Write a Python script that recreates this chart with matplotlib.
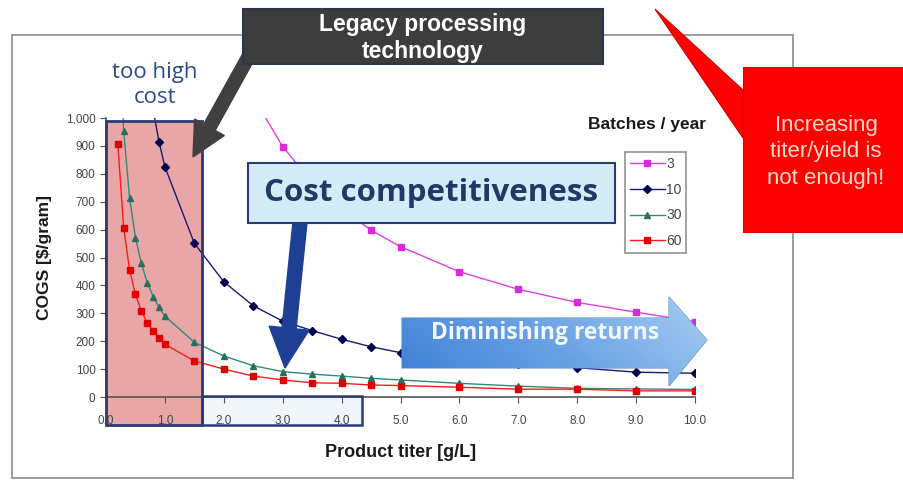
import matplotlib
matplotlib.use("Agg")
import matplotlib.pyplot as plt
import numpy as np
from matplotlib.patches import Rectangle, Polygon, FancyArrow
from matplotlib.colors import LinearSegmentedColormap

plt.rcParams['font.family'] = ['Liberation Sans', 'DejaVu Sans']

# ---- data ----
titer_3 = [2.5, 3.0, 3.5, 4.0, 4.5, 5.0, 6.0, 7.0, 8.0, 9.0, 10.0]
cogs_3 = [1076, 897, 770, 675, 598, 539, 449, 386, 339, 304, 270]

titer_10 = [0.8, 0.9, 1.0, 1.5, 2.0, 2.5, 3.0, 3.5, 4.0, 4.5, 5.0, 6.0, 7.0, 8.0, 9.0, 10.0]
cogs_10 = [1030, 915, 825, 551, 413, 327, 272, 238, 207, 180, 159, 136, 118, 105, 89, 85]

titer_30 = [0.2, 0.3, 0.4, 0.5, 0.6, 0.7, 0.8, 0.9, 1.0, 1.5, 2.0, 2.5, 3.0, 3.5, 4.0, 4.5, 5.0, 6.0, 7.0, 8.0, 9.0, 10.0]
cogs_30 = [1420, 953, 714, 571, 479, 410, 360, 321, 290, 196, 147, 112, 91, 82, 75, 67, 61, 49, 39, 31, 29, 27]

titer_60 = [0.2, 0.3, 0.4, 0.5, 0.6, 0.7, 0.8, 0.9, 1.0, 1.5, 2.0, 2.5, 3.0, 3.5, 4.0, 4.5, 5.0, 6.0, 7.0, 8.0, 9.0, 10.0]
cogs_60 = [906, 607, 455, 368, 308, 266, 236, 213, 189, 129, 100, 75, 61, 51, 49, 43, 41, 35, 28, 28, 22, 22]

x_ticks = [0, 1, 2, 3, 4, 5, 6, 7, 8, 9, 10]
x_tick_labels = ["0.0", "1.0", "2.0", "3.0", "4.0", "5.0", "6.0", "7.0", "8.0", "9.0", "10.0"]
y_ticks = [0, 100, 200, 300, 400, 500, 600, 700, 800, 900, 1000]
y_tick_labels = ["0", "100", "200", "300", "400", "500", "600", "700", "800", "900", "1,000"]

W, H = 904, 482
fig = plt.figure(figsize=(W / 100, H / 100), dpi=100)
fig.patch.set_facecolor("white")

# overlay in pixel coords (background layer)
bg = fig.add_axes([0, 0, 1, 1], zorder=0)
bg.set_xlim(0, W)
bg.set_ylim(H, 0)
bg.axis("off")

# outer chart frame
bg.add_patch(Rectangle((12, 35), 781, 443, fill=False, edgecolor="#8a8a8a", lw=1.2))
# red shaded region (legacy)
bg.add_patch(Rectangle((106, 121), 96, 304, facecolor="#e8a6a6", edgecolor="none"))
# light blue region below axis
bg.add_patch(Rectangle((202, 396), 160, 29, facecolor="#eef6fc", edgecolor="none"))

# ---- main axes ----
ax = fig.add_axes([106 / W, 1 - 397 / H, 589 / W, 279 / H], zorder=1)
ax.patch.set_alpha(0)
lw = 1.0
ax.plot(titer_3, cogs_3, color="#e040e0", lw=lw, marker="s", ms=4.2, mfc="#d82ad8", mec="#d82ad8", label="3")
ax.plot(titer_10, cogs_10, color="#1a1a6e", lw=lw, marker="D", ms=3.6, mfc="#000050", mec="#000050", label="10")
ax.plot(titer_30, cogs_30, color="#2e8b7a", lw=lw, marker="^", ms=5, mfc="#2a6e5e", mec="#2a6e5e", label="30")
ax.plot(titer_60, cogs_60, color="#ff1a1a", lw=lw, marker="s", ms=4.8, mfc="#e00000", mec="#e00000", label="60")
ax.set_xlim(0, 10)
ax.set_ylim(0, 1000)
ax.set_xticks(x_ticks)
ax.set_xticklabels(x_tick_labels)
ax.set_yticks(y_ticks)
ax.set_yticklabels(y_tick_labels)
for s in ["top", "right"]:
    ax.spines[s].set_visible(False)
for s in ["left", "bottom"]:
    ax.spines[s].set_color("#555555")
    ax.spines[s].set_linewidth(1.2)
ax.tick_params(axis="both", colors="#555555", labelcolor="#444444", labelsize=8.5, length=4, direction="out")
ax.tick_params(axis="x", pad=9)
ax.set_xlabel("Product titer [g/L]", fontsize=13, fontweight="bold", labelpad=12, color="#1a1a1a")
ax.set_ylabel("COGS [$/gram]", fontsize=12.5, fontweight="bold", labelpad=10, color="#1a1a1a")
leg = ax.legend(loc="upper left", bbox_to_anchor=(512 / 589, (397 - 145) / 279), frameon=True,
                fontsize=10, handlelength=2.5, borderpad=0.35, labelspacing=0.85, handletextpad=0.1,
                fancybox=False, edgecolor="#777777")
for t in leg.get_texts():
    t.set_color("#444444")
leg.get_frame().set_linewidth(1.2)

# ---- foreground overlay ----
fg = fig.add_axes([0, 0, 1, 1], zorder=3)
fg.set_xlim(0, W)
fg.set_ylim(H, 0)
fg.axis("off")
fg.patch.set_alpha(0)

navy = "#2c3a78"
fg.add_patch(Rectangle((106, 121), 96, 304, fill=False, edgecolor=navy, lw=2))
fg.add_patch(Rectangle((202, 396), 160, 29, fill=False, edgecolor=navy, lw=1.8))

fg.text(155, 85, "too high\ncost", ha="center", va="center", fontsize=16, color="#2e4a86",
        family=["Open Sans", "DejaVu Sans"], linespacing=1.3)

fg.text(647, 125, "Batches / year", ha="center", va="center", fontsize=12.5, fontweight="bold", color="#1a1a1a")

# legacy box + arrow
fg.add_patch(FancyArrow(255, 45, -62, 112, width=13, head_width=34, head_length=34,
                        length_includes_head=True, facecolor="#404040", edgecolor="#404040"))
fg.add_patch(Rectangle((243, 9), 360, 55, facecolor="#3d3d3d", edgecolor="#2a3550", lw=1.5))
fg.text(423, 38, "Legacy processing\ntechnology", ha="center", va="center", fontsize=16.5,
        fontweight="bold", color="white", linespacing=1.22)

# cost competitiveness box + arrow
fg.add_patch(FancyArrow(300, 222, -15, 146, width=14, head_width=40, head_length=40,
                        length_includes_head=True, facecolor="#1f3f94", edgecolor="#1f3f94"))
fg.add_patch(Rectangle((248, 163), 367, 60, facecolor="#d4ebf8", edgecolor="#2c3a78", lw=1.5))
fg.text(431, 193, "Cost competitiveness", ha="center", va="center", fontsize=22.5,
        fontweight="bold", color="#1f3a64", family=["Open Sans", "DejaVu Sans"])

# diminishing returns arrow with gradient
arrow_pts = [(402, 318), (669, 318), (669, 297), (707, 340), (669, 386), (669, 368), (402, 368)]
arr = Polygon(arrow_pts, closed=True, facecolor="none", edgecolor="#5a8fd0", lw=0.8)
fg.add_patch(arr)
cmap = LinearSegmentedColormap.from_list("blu", ["#3d7fd6", "#6aa3e4", "#a8cdf2"])
gx = np.linspace(0, 1, 256)
gy = np.linspace(0, 1, 64)
G = 0.75 * gx[None, :] + 0.25 * (1 - gy[:, None])
im = fg.imshow(G, cmap=cmap, extent=(402, 707, 386, 297), aspect="auto", zorder=2)
im.set_clip_path(arr)
fg.text(545, 333, "Diminishing returns", ha="center", va="center", fontsize=16.5, fontweight="bold",
        color="#f2f7ff", zorder=4, family=["Open Sans", "DejaVu Sans"])

# red callout
callout = Polygon([(743, 90), (655, 9), (743, 138)], closed=True, facecolor="#ff0000", edgecolor="#d00000", lw=0.8)
fg.add_patch(callout)
fg.add_patch(Rectangle((743, 67), 170, 165, facecolor="#ff0000", edgecolor="#e00000", lw=0.8))
fg.text(826, 152, "Increasing\ntiter/yield is\nnot enough!", ha="center", va="center", fontsize=16,
        color="#f8d8c8", linespacing=1.35)

fig.savefig("out.png", dpi=100)
